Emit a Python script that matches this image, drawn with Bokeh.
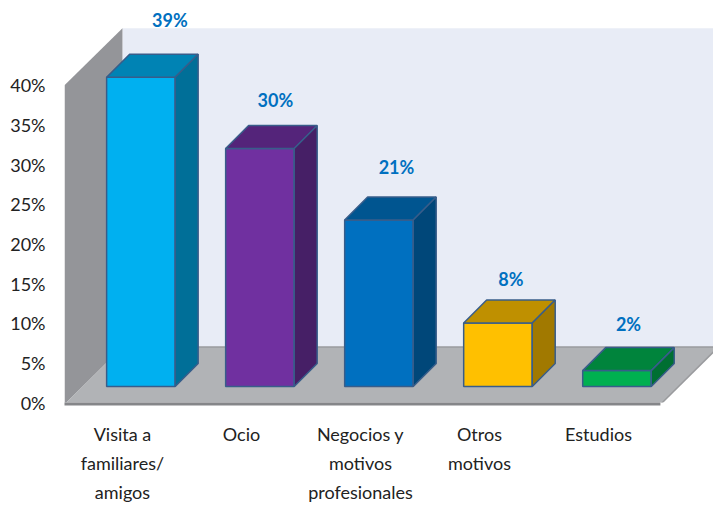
from bokeh.plotting import figure
from bokeh.models import LinearAxis, FixedTicker, Range1d, ColumnDataSource
from bokeh.core.properties import value
from bokeh.embed import file_html
from bokeh.resources import INLINE

# ---- data ----
categories = [["Visita a", "familiares/", "amigos"],
              ["Ocio"],
              ["Negocios y", "motivos", "profesionales"],
              ["Otros", "motivos"],
              ["Estudios"]]
shares = [39, 30, 21, 8, 2]
share_labels = ["39%", "30%", "21%", "8%", "2%"]
y_ticks = [0, 5, 10, 15, 20, 25, 30, 35, 40]
front_colors = ["#00B0F0", "#7030A0", "#0070C0", "#FFC000", "#00B050"]
top_colors = ["#0083B4", "#54247A", "#005590", "#BF9000", "#00843C"]
side_colors = ["#006F98", "#461F66", "#004779", "#A17900", "#006F32"]

# ---- layout ----
FONT = "Lato"
X0, X1 = -0.487, 4.966
Y0, Y1 = 0, 50.69
WALL_DX, WALL_DY = 0.487, 7.0
BAR_SHIFT, BAR_LIFT, BAR_W = 0.155, 2.02, 0.576
DEPTH_X, DEPTH_Y = 0.193, 2.9
FLOOR_END = 4.52
LABEL_DX = [29, 15.5, 17.5, 13, 11.5]
LABEL_DY = [34, 25.5, 30, 21, 23.5]

p = figure(width=713, height=505, output_backend="svg", toolbar_location=None,
           x_range=Range1d(X0, X1), y_range=Range1d(Y0, Y1),
           min_border_left=64, min_border_right=0, min_border_top=0, min_border_bottom=99,
           x_axis_location=None, y_axis_location=None)
p.outline_line_color = None
p.grid.visible = False

# walls and floor
p.patch([X0 + WALL_DX, FLOOR_END + WALL_DX, FLOOR_END + WALL_DX, X0 + WALL_DX],
        [WALL_DY, WALL_DY, 40 + WALL_DY + 0.2, 40 + WALL_DY + 0.2], color="#E8ECF6", line_width=0)
p.patch([X0, X0 + WALL_DX, X0 + WALL_DX, X0], [-0.25, WALL_DY, 40 + WALL_DY + 0.2, 40],
        color="#949599", line_width=0)
p.patch([X0, FLOOR_END, FLOOR_END + WALL_DX, X0 + WALL_DX], [-0.25, -0.25, WALL_DY, WALL_DY],
        color="#B1B3B6", line_width=0)
p.line([X0 + WALL_DX, FLOOR_END + WALL_DX], [WALL_DY, WALL_DY], color="#9A9B9E", line_width=1.5)
p.line([FLOOR_END, FLOOR_END + WALL_DX], [-0.25, WALL_DY], color="#9A9B9E", line_width=1.5)
p.line([X0, FLOOR_END], [-0.2, -0.2], color="#858689", line_width=3, level="overlay")

# bars
OUT = "#385D8A"
for i, v in enumerate(shares):
    l = i + BAR_SHIFT - BAR_W / 2
    r = l + BAR_W
    b = BAR_LIFT
    t = b + v
    p.patch([l, r, r, l], [b, b, t, t], fill_color=front_colors[i], line_color=OUT, line_width=1.5)
    p.patch([l, r, r + DEPTH_X, l + DEPTH_X], [t, t, t + DEPTH_Y, t + DEPTH_Y],
            fill_color=top_colors[i], line_color=OUT, line_width=1.5)
    p.patch([r, r + DEPTH_X, r + DEPTH_X, r], [b, b + DEPTH_Y, t + DEPTH_Y, t],
            fill_color=side_colors[i], line_color=OUT, line_width=1.5)

# value labels
src = ColumnDataSource(dict(
    x=[i + BAR_SHIFT for i in range(len(shares))],
    y=[BAR_LIFT + v + DEPTH_Y for v in shares],
    text=share_labels,
    xo=LABEL_DX,
    yo=[-d for d in LABEL_DY]))
p.text(x="x", y="y", text="text", source=src, x_offset="xo", y_offset="yo",
       text_align="center", text_baseline="middle", text_color="#0070C0",
       text_font=value(FONT), text_font_size="18px", text_font_style="bold")

# y axis
ya = LinearAxis(ticker=FixedTicker(ticks=y_ticks),
                major_label_overrides={t: f"{t}%" for t in y_ticks})
ya.axis_line_color = None
ya.major_tick_line_color = None
ya.minor_tick_line_color = None
ya.major_label_standoff = 13
ya.major_label_text_font = FONT
ya.major_label_text_font_size = "18px"
ya.major_label_text_color = "#222222"
p.add_layout(ya, "left")

# category axes: one axis per text line
for n in range(3):
    overrides = {i: (c[n] if n < len(c) else "") for i, c in enumerate(categories)}
    xa = LinearAxis(ticker=FixedTicker(ticks=list(range(len(categories)))),
                    major_label_overrides=overrides)
    xa.axis_line_color = None
    xa.major_tick_line_color = None
    xa.minor_tick_line_color = None
    xa.major_label_standoff = 14 if n == 0 else -2
    xa.major_label_text_font = FONT
    xa.major_label_text_font_size = "18px"
    xa.major_label_text_color = "#222222"
    p.add_layout(xa, "below")

open("out.html", "w").write(file_html(p, INLINE))
